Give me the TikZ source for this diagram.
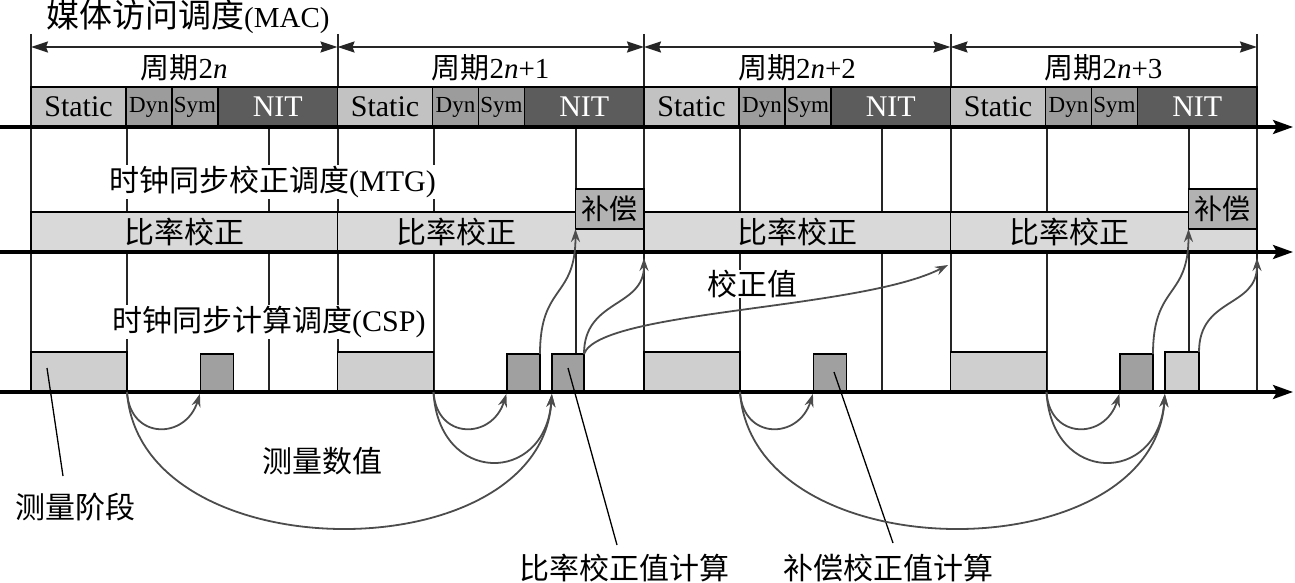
\documentclass[tikz,border=0pt]{standalone}
\usepackage{fontspec}
\setmainfont{Liberation Serif}
\newfontfamily\cjk{Noto Sans CJK SC}
\usetikzlibrary{arrows.meta}
\definecolor{cStatic}{HTML}{C2C2C2}
\definecolor{cDyn}{HTML}{9C9C9C}
\definecolor{cNit}{HTML}{5C5C5C}
\definecolor{cMtg}{HTML}{D9D9D9}
\definecolor{cComp}{HTML}{B2B2B2}
\definecolor{cLight}{HTML}{CFCFCF}
\definecolor{cDark}{HTML}{A0A0A0}
\newcommand{\fsz}[1]{\fontsize{#1}{#1}\selectfont}
\newcommand{\rbox}[7]{\node[box,#6,minimum width={(#4)-(#2)},minimum height={(#5)-(#3)}] (#1) at ({((#2)+(#4))/2},{((#3)+(#5))/2}) {#7};}
\begin{document}
\begin{tikzpicture}[x=1pt,y=-1pt,
  box/.style={draw=black,line width=1.9pt,inner sep=0pt,outer sep=0pt},
  vline/.style={draw=black!85,line width=2pt},
  axisline/.style={line width=3.2pt,-{Stealth[length=20pt,width=14pt,inset=4pt]}},
  dimarrow/.style={line width=1.8pt,draw=black!85,{Stealth[length=17pt,width=11pt,inset=2pt]}-{Stealth[length=17pt,width=11pt,inset=2pt]}},
  flow/.style={draw=black!70,line width=1.8pt,-{Stealth[length=13pt,width=9pt]}},
  ptr/.style={draw=black,line width=1.3pt},
  lab/.style={inner sep=1pt,font=\fsz{30}},
]
\useasboundingbox (0,0) rectangle (1295,583);

% vertical grid lines
\foreach \p in {0,...,4}{
  \pgfmathsetmacro\X{31+306.5*\p}
  \draw[vline] (\X,34) -- (\X,392);
}
\foreach \p in {0,...,3}{
  \pgfmathsetmacro\X{31+306.5*\p}
  \draw[vline] ({\X+96},127) -- ({\X+96},392);
  \draw[vline] ({\X+238},127) -- ({\X+238},392);
}

% period arrows and labels, boxes
\foreach \p/\suf in {0/{},1/+1,2/+2,3/+3}{
  \pgfmathsetmacro\X{31+306.5*\p}
  \pgfmathsetmacro\Y{\X+306.5}
  \coordinate (tl\p) at (\X,47);
  \coordinate (tr\p) at (\Y,47);
  \draw[dimarrow] (tl\p) -- (tr\p);
  \node[lab,font=\fsz{29}] (per\p) at ({\X+153},68) {{\cjk 周期}2\textit{n}\suf};
  % MAC
  \rbox{st\p}{\X}{87}{\X+95}{127}{fill=cStatic}{\fsz{30}Static}
  \rbox{dy\p}{\X+95}{87}{\X+141}{127}{fill=cDyn}{\fsz{23}Dyn}
  \rbox{sy\p}{\X+141}{87}{\X+187}{127}{fill=cDyn}{\fsz{23}Sym}
  \rbox{ni\p}{\X+187}{87}{\Y}{127}{fill=cNit}{\fsz{30}\color{white}NIT}
  % MTG
  \rbox{mtg\p}{\X}{212}{\Y}{252}{fill=cMtg}{}
  % CSP
  \rbox{meas\p}{\X}{352}{\X+96}{392}{fill=cLight}{}
  \rbox{dk\p}{\X+169.5}{354}{\X+202.5}{392}{fill=cDark}{}
}

% MTG texts and compensation boxes
\node[lab] (r0) at (184,232) {\cjk 比率校正};
\node[lab] (r1) at (456,232) {\cjk 比率校正};
\node[lab] (r2) at (797,232) {\cjk 比率校正};
\node[lab] (r3) at (1069,232) {\cjk 比率校正};
\rbox{comp1}{575.5}{189}{644}{229}{fill=cComp}{\fsz{28}\cjk 补偿}
\rbox{comp3}{1188.5}{189}{1257}{229}{fill=cComp}{\fsz{28}\cjk 补偿}

% CSP extra blocks
\rbox{c1}{552}{354}{584}{392}{fill=cDark}{}
\rbox{c3}{1165}{352}{1199}{392}{fill=cLight}{}

% axes
\coordinate (a1l) at (0,127);   \coordinate (a1r) at (1293,127);
\coordinate (a2l) at (0,252);   \coordinate (a2r) at (1293,252);
\coordinate (a3l) at (0,392);   \coordinate (a3r) at (1293,392);
\draw[axisline] (a1l) -- (a1r);
\draw[axisline] (a2l) -- (a2r);
\draw[axisline] (a3l) -- (a3r);

% labels
\node[inner sep=0pt,anchor=west] (title) at (46,17) {\fsz{33}{\cjk 媒体访问调度}\fsz{29}(MAC)};
\node[lab,anchor=west,fill=white] (mtgl) at (108,182) {{\cjk 时钟同步校正调度}(MTG)};
\node[lab,anchor=west,fill=white] (cspl) at (111,322) {{\cjk 时钟同步计算调度}(CSP)};
\node[lab,fill=white,inner sep=0pt] (kzl) at (752,284) {\cjk 校正值};
\node[lab] (clsz) at (322,461) {\cjk 测量数值};
\node[lab] (cljd) at (76,507) {\cjk 测量阶段};
\node[lab] (blj) at (624,568) {\cjk 比率校正值计算};
\node[lab] (bcj) at (888,568) {\cjk 补偿校正值计算};

% pointers
\coordinate (pa1) at (47,368);  \coordinate (pa2) at (63,476);
\coordinate (pb1) at (568,368); \coordinate (pb2) at (617,545);
\coordinate (pc1) at (834,372); \coordinate (pc2) at (893,543);
\draw[ptr] (pa1) -- (pa2);
\draw[ptr] (pb1) -- (pb2);
\draw[ptr] (pc1) -- (pc2);

% measurement arcs
\foreach \p in {0,...,3}{
  \draw[flow,shorten >=2pt] (meas\p.south east) .. controls +(3,48) and +(-15,48) .. (dk\p.south west);
}
\draw[flow,shorten >=2pt] (meas0.south east) .. controls +(13,181) and +(-12,181) .. (c1.south west);
\draw[flow,shorten >=2pt] (meas2.south east) .. controls +(13,181) and +(-12,181) .. (c3.south west);
\draw[flow,shorten >=2pt] (meas1.south east) .. controls +(5,93) and +(-7,93) .. (c1.south west);
\draw[flow,shorten >=2pt] (meas3.south east) .. controls +(5,93) and +(-7,93) .. (c3.south west);

% correction arrows
\coordinate (e1) at (644,258);
\coordinate (e3) at (1257,258);
\coordinate (kz) at (948,265);
\draw[flow] (dk1.north east) .. controls +(0,-70) and +(0,70) .. (comp1.south west);
\draw[flow] (c1.north east) .. controls +(0,-55) and +(0,50) .. (e1);
\draw[flow] (c1.north east) .. controls (600,310) and (860,310) .. (kz);
\draw[flow] (dk3.north east) .. controls +(0,-70) and +(0,70) .. (comp3.south west);
\draw[flow] (c3.north east) .. controls +(0,-55) and +(0,50) .. (e3);
\end{tikzpicture}
\end{document}
